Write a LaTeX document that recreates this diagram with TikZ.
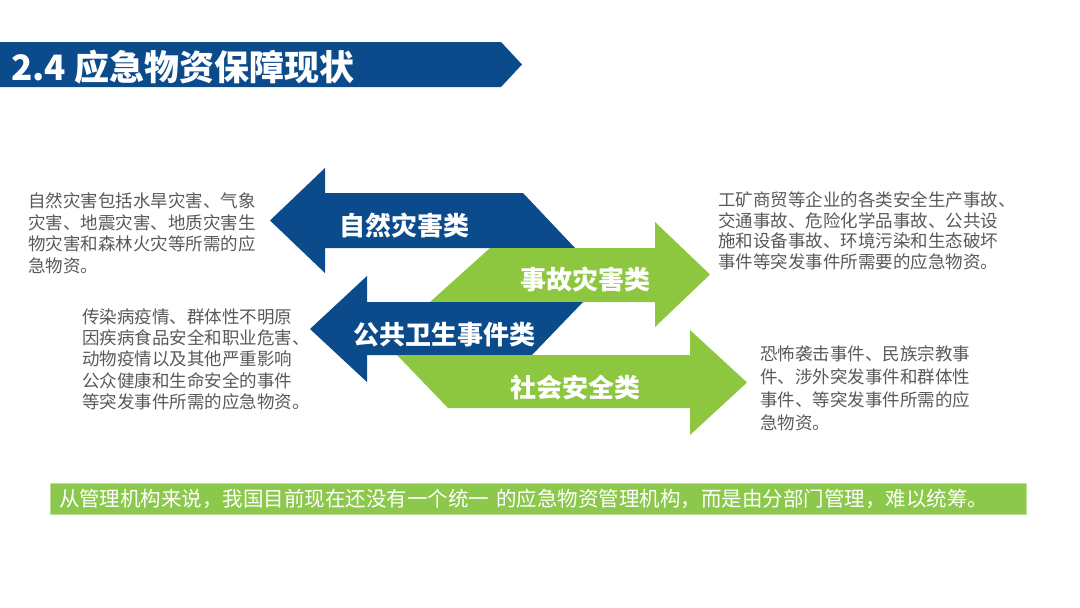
\documentclass[tikz,border=0pt]{standalone}
\usepackage{fontspec}
\setmainfont{Noto Sans CJK SC}
\usepackage{tikz}
\usepackage{xcolor}
\definecolor{slideblue}{HTML}{0B4B8C}
\definecolor{slidegreen}{HTML}{8DC63F}
\definecolor{bargreen}{HTML}{8CC84B}
\definecolor{descgray}{HTML}{595959}

\begin{document}
\begin{tikzpicture}[
  x=1pt, y=-1pt,
  catlabel/.style={text=white, inner sep=0pt,
    font=\fontsize{26}{30}\selectfont\bfseries},
  desctext/.style={text=descgray, align=left, inner sep=0pt, anchor=base west,
    font=\fontsize{17.5}{21.5}\selectfont},
  bluearrow/.style={fill=slideblue},
  greenarrow/.style={fill=slidegreen}
]
\useasboundingbox (0,0) rectangle (1080,608);
% title banner
\fill[slideblue] (0,42) -- (501,42) -- (522,64.5) -- (501,87) -- (0,87) -- cycle;
\node[anchor=west, inner sep=0pt, text=white,
  font=\fontsize{35}{40}\selectfont\bfseries] (title) at (11,67) {2.4 应急物资保障现状};
% category arrows
\fill[bluearrow] (270,220.5) -- (325,168) -- (325,193) -- (523,193)
  -- (575,248) -- (325,248) -- (325,273) -- cycle;
\fill[greenarrow] (430,302) -- (490,248) -- (655,248) -- (655,222)
  -- (710,274.5) -- (655,327) -- (655,302) -- cycle;
\fill[bluearrow] (310,329) -- (367,276) -- (367,302) -- (583,302)
  -- (532,355) -- (367,355) -- (367,382) -- cycle;
\fill[greenarrow] (397,355) -- (690,355) -- (690,330) -- (747,382.5)
  -- (690,435) -- (690,408) -- (448,408) -- cycle;
\node[catlabel] (natural) at (404,225.5) {自然灾害类};
\node[catlabel] (accident) at (585,279.5) {事故灾害类};
\node[catlabel] (health) at (444.5,335) {公共卫生事件类};
\node[catlabel] (social) at (575,387.5) {社会安全类};
% descriptions (anchored at the base of the last line)
\node[desctext] (naturaltext) at (28,272)
  {自然灾害包括水旱灾害、气象\\灾害、地震灾害、地质灾害生\\物灾害和森林火灾等所需的应\\急物资。};
\node[desctext, font=\fontsize{17.5}{20.5}\selectfont] (accidenttext) at (718,268)
  {工矿商贸等企业的各类安全生产事故、\\交通事故、危险化学品事故、公共设\\施和设备事故、环境污染和生态破坏\\事件等突发事件所需要的应急物资。};
\node[desctext, font=\fontsize{17.5}{21.3}\selectfont] (healthtext) at (82,408.5)
  {传染病疫情、群体性不明原\\因疾病食品安全和职业危害、\\动物疫情以及其他严重影响\\公众健康和生命安全的事件\\等突发事件所需的应急物资。};
\node[desctext, font=\fontsize{17.5}{23}\selectfont] (socialtext) at (760,429.6)
  {恐怖袭击事件、民族宗教事\\件、涉外突发事件和群体性\\事件、等突发事件所需的应\\急物资。};
% summary bar
\node[fill=bargreen, draw=bargreen!60!white, minimum width=976pt, minimum height=31pt,
  inner xsep=9pt, inner ysep=0pt, text width=958pt, align=left, text=white,
  font=\fontsize{20.5}{24}\selectfont] (summary) at (538,498.5)
  {从管理机构来说，我国目前现在还没有一个统一 的应急物资管理机构，而是由分部门管理，难以统筹。};
\end{tikzpicture}
\end{document}
